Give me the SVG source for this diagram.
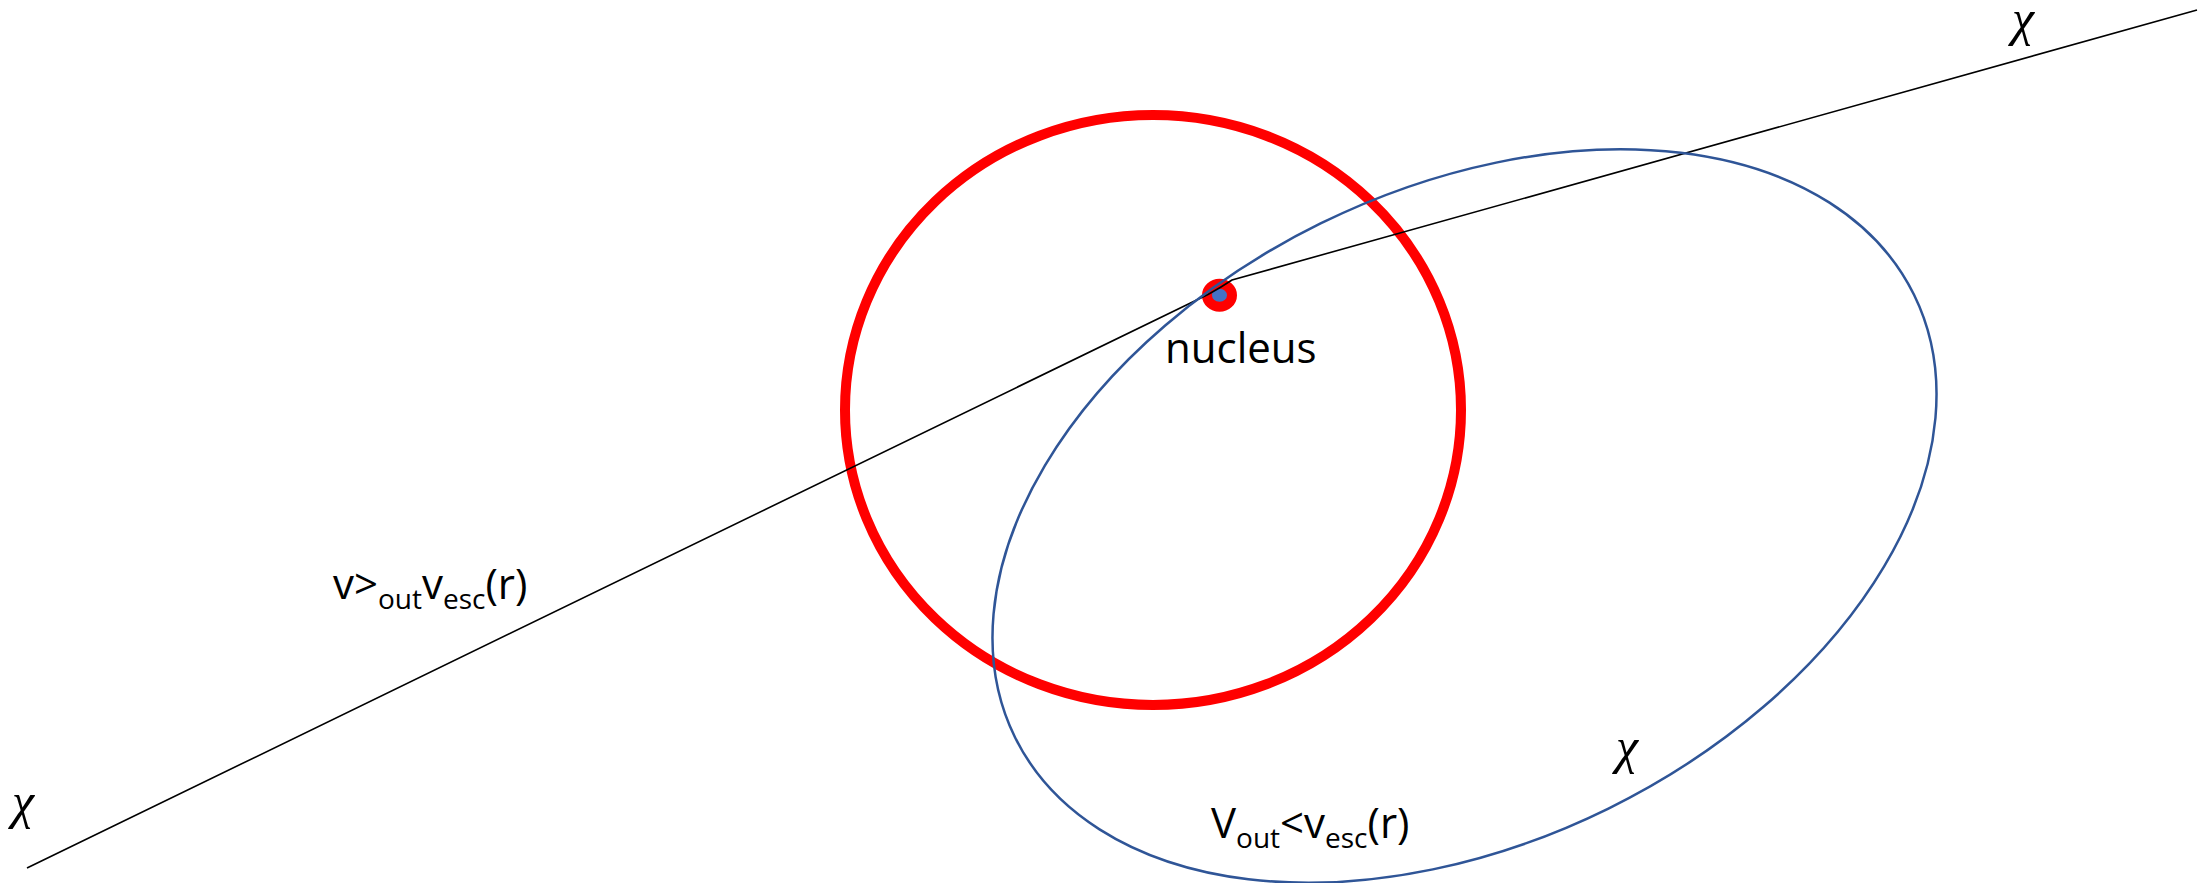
<svg xmlns="http://www.w3.org/2000/svg" width="2202" height="883" viewBox="0 0 2202 883">
  <style>
    .lbl { font-family: "Open Sans", "Liberation Sans", sans-serif; font-size: 42px; fill: #000; }
    .sub { font-size: 28px; }
    .chi { font-family: "Liberation Serif", "DejaVu Serif", serif; font-style: italic; font-size: 50px; fill: #000; }
  </style>
  <rect x="0" y="0" width="2202" height="883" fill="#fff"/>
  <g id="sphere">
    <ellipse cx="1153" cy="410" rx="308" ry="295" fill="none" stroke="#FF0000" stroke-width="10"/>
  </g>
  <g id="nucleus">
    <ellipse cx="1219.5" cy="295.3" rx="12.5" ry="11.5" fill="#4472C4" stroke="#FF0000" stroke-width="10"/>
    <text class="lbl" x="1165" y="363">nucleus</text>
  </g>
  <g id="connectors">
    <path id="unbound-path" d="M 27 868 L 1208 294.5 Q 1220 288 1232 280 L 2197 10" fill="none" stroke="#000" stroke-width="1.6"/>
    <ellipse id="bound-orbit" cx="1464.5" cy="516" rx="501" ry="326" transform="rotate(-26.2 1464.5 516)" fill="none" stroke="#2F5597" stroke-width="2.5"/>
  </g>
  <g id="label-unbound">
    <text class="lbl" x="333" y="599">v&gt;<tspan class="sub" dy="10">out</tspan><tspan dy="-10">v</tspan><tspan class="sub" dy="10">esc</tspan><tspan dy="-10">(r)</tspan></text>
  </g>
  <g id="label-bound">
    <text class="lbl" x="1211" y="838">V<tspan class="sub" dy="10">out</tspan><tspan dy="-10">&lt;v</tspan><tspan class="sub" dy="10">esc</tspan><tspan dy="-10">(r)</tspan></text>
  </g>
  <g id="chi-labels">
    <text class="chi" x="12" y="818">χ</text>
    <text class="chi" x="2012" y="35">χ</text>
    <text class="chi" x="1616" y="763">χ</text>
  </g>
</svg>
